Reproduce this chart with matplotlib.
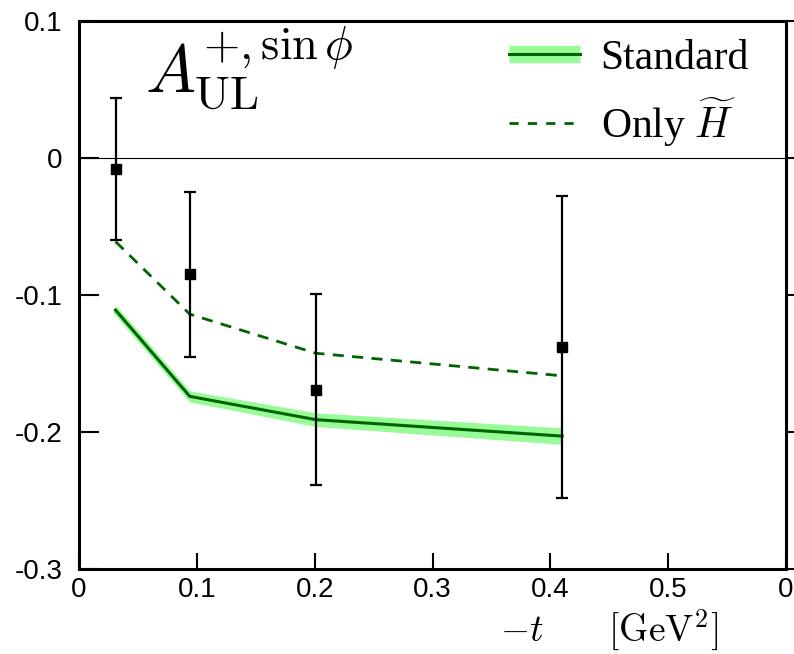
import matplotlib
matplotlib.use("Agg")
import matplotlib.pyplot as plt
from matplotlib.lines import Line2D
from matplotlib.legend_handler import HandlerTuple

plt.rcParams['mathtext.fontset'] = 'cm'
plt.rcParams['font.family'] = ['Liberation Sans', 'DejaVu Sans']

# data
t_data = [0.031, 0.094, 0.201, 0.41]
A_data = [-0.008, -0.085, -0.169, -0.138]
A_err = [0.052, 0.060, 0.070, 0.110]

t_curve = [0.031, 0.094, 0.201, 0.41]
standard = [-0.111, -0.174, -0.191, -0.203]
standard_halfwidth = [0.003, 0.004, 0.005, 0.006]
only_H = [-0.061, -0.114, -0.1425, -0.159]

x_ticks = [0, 0.1, 0.2, 0.3, 0.4, 0.5, 0.6]
x_ticklabels = ['0', '0.1', '0.2', '0.3', '0.4', '0.5', '0']
y_ticks = [-0.3, -0.2, -0.1, 0, 0.1]
y_ticklabels = ['-0.3', '-0.2', '-0.1', '0', '0.1']

light_green = '#98fb98'
dark_green = '#006400'

fig = plt.figure(figsize=(7.94, 6.54), dpi=100)
ax = fig.add_axes([79/794, 1-569/654, (786-79)/794, (569-21)/654])

ax.set_xlim(0, 0.6)
ax.set_ylim(-0.3, 0.1)

ax.axhline(0, color='black', lw=0.8, zorder=1)

lo = [s - h for s, h in zip(standard, standard_halfwidth)]
hi = [s + h for s, h in zip(standard, standard_halfwidth)]
ax.fill_between(t_curve, lo, hi, color=light_green, lw=0, zorder=2)
ax.plot(t_curve, standard, color=light_green, lw=5, solid_capstyle='butt', zorder=2)
ax.plot(t_curve, standard, color=dark_green, lw=2.2, zorder=3)
ax.plot(t_curve, only_H, color=dark_green, lw=2.0, ls=(0, (4, 3)), zorder=3)

ax.errorbar(t_data, A_data, yerr=A_err, fmt='s', color='black', ms=7.5,
            elinewidth=1.6, capsize=4, capthick=1.6, zorder=4)

for side in ['left', 'bottom', 'right', 'top']:
    ax.spines[side].set_linewidth(2.2)

ax.set_xticks(x_ticks)
ax.set_xticklabels(x_ticklabels)
ax.set_yticks(y_ticks)
ax.set_yticklabels(y_ticklabels)
ax.tick_params(axis='x', direction='in', length=11.5, width=1.5, labelsize=20, pad=6)
ax.tick_params(axis='y', direction='in', length=14.5, width=1.5, labelsize=20, pad=12)

# right-side ticks pointing outward
ax2 = ax.twinx()
ax2.set_ylim(ax.get_ylim())
ax2.set_yticks(y_ticks)
ax2.set_yticklabels([])
ax2.tick_params(axis='y', direction='out', length=8, width=1.5)
for side in ['left', 'bottom', 'right', 'top']:
    ax2.spines[side].set_visible(False)

ax.text(0.093, 0.87, r'$A_{\mathrm{UL}}^{+,\sin\phi}$', transform=ax.transAxes,
        fontsize=48, va='baseline', ha='left')

fig.text(500/794, 1-641/654, r'$-t\qquad[\mathrm{GeV}^2]$', fontsize=27,
         ha='left', va='baseline')

h_std = (Line2D([], [], color=light_green, lw=12.5, solid_capstyle='butt'),
         Line2D([], [], color=dark_green, lw=2.2))
h_only = Line2D([], [], color=dark_green, lw=2.0, ls=(0, (3.3, 3.3)))
leg = ax.legend([h_std, h_only], ['Standard', r'Only $\widetilde{H}$'],
                handler_map={tuple: HandlerTuple(ndivide=1, pad=0)},
                loc='upper right', bbox_to_anchor=(0.989, 1.02), frameon=False,
                prop={'family': 'Liberation Serif', 'size': 30},
                handlelength=1.7, handletextpad=0.5, labelspacing=0.45,
                borderaxespad=0.3)

fig.savefig('out.png', dpi=100)
